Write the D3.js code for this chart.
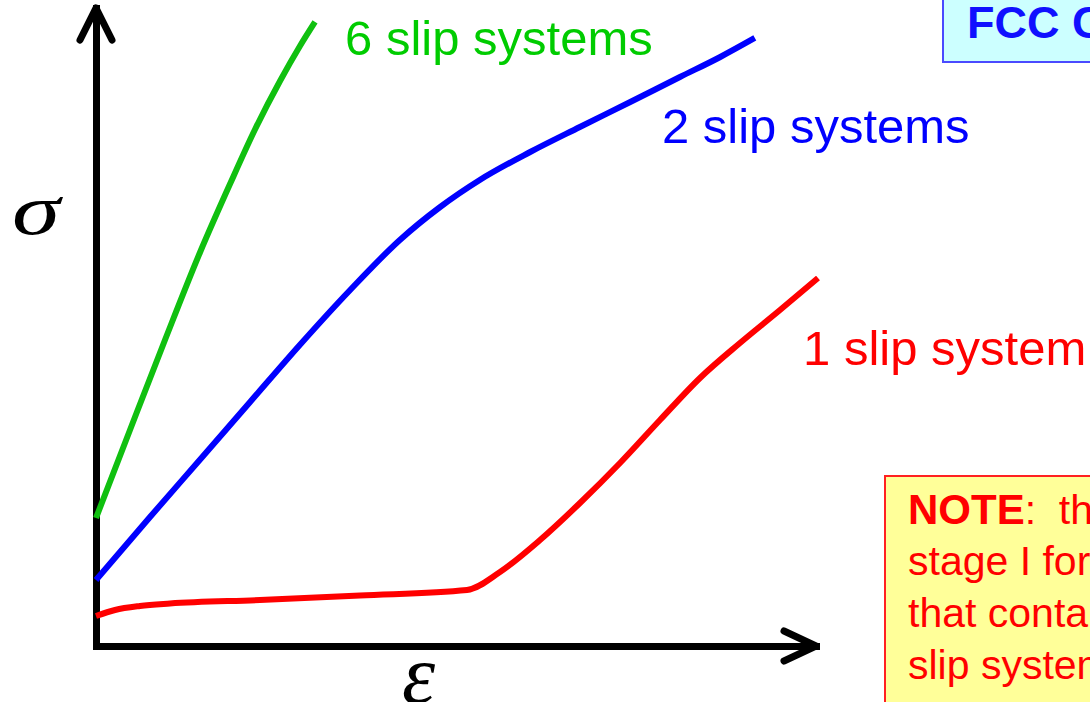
<!DOCTYPE html>
<html lang="en">
<head>
    <meta charset="utf-8">
    <title>Slip systems stress-strain</title>
    <script type="text/javascript" src="https://cdn.jsdelivr.net/npm/d3@7/dist/d3.min.js"></script>
    <style>
        body { margin: 0; background: #fff; }
        svg { display: block; }
    </style>
</head>
<body>
    <div id="chart"></div>

    <script type="text/javascript">

            // curve values (strain, stress in 0-100 units)
            var sixSlipStrain = [0, 4.72, 9.58, 14.44, 18.61, 22.08, 25.56, 28.33, 30.42];
            var sixSlipStress = [20.06, 33.86, 47.96, 61.68, 72.41, 80.96, 88.56, 94.04, 97.81];

            var twoSlipStrain = [0, 7.5, 14.4, 21.4, 28.3, 35.3, 42.2, 47.8, 53.3, 60.3, 67.2, 74.2, 81.1, 86.7, 91.5];
            var twoSlipStress = [10.34, 20.22, 29.15, 38.24, 47.18, 55.8, 63.64, 68.81, 73.04, 77.43, 81.35, 85.27, 89.18, 92.32, 95.3];

            var oneSlipStrain = [0, 2.64, 6.11, 10.28, 22.78, 36.67, 51.53, 56.11, 61.67, 67.22, 72.78, 78.33, 83.89, 89.44, 95.0, 100.28];
            var oneSlipStress = [4.7, 5.64, 6.27, 6.66, 7.21, 7.92, 8.78, 11.6, 16.61, 22.41, 28.68, 35.42, 42.01, 47.49, 52.66, 57.68];

            var seriesNames = ["6 slip systems", "2 slip systems", "1 slip system"];
            var noteLines = ["there is no", "stage I for crystals", "that contain many", "slip systems"];

            var w = 1090;
            var h = 702;

            var xScale = d3.scaleLinear().domain([0, 100]).range([96, 816]);
            var yScale = d3.scaleLinear().domain([0, 100]).range([646, 8]);

            var svg = d3.select("#chart")
            .append("svg")
            .attr("width", w)
            .attr("height", h)
            .style("font-family", "'Liberation Sans', Arial, sans-serif");

            // boxes on the right (drawn first, clipped by the page edge)
            svg.append("rect")
              .attr("x", 943).attr("y", -10)
              .attr("width", 200).attr("height", 72)
              .attr("fill", "#ccffff")
              .attr("stroke", "#4a4aff")
              .attr("stroke-width", 2);

            svg.append("text")
              .attr("x", 967).attr("y", 38)
              .attr("font-size", 45)
              .attr("font-weight", "bold")
              .attr("fill", "#1010ff")
              .text("FCC Crystals");

            svg.append("rect")
              .attr("x", 885).attr("y", 476)
              .attr("width", 260).attr("height", 260)
              .attr("fill", "#ffff99")
              .attr("stroke", "#ff2020")
              .attr("stroke-width", 2);

            var note = svg.append("g").attr("fill", "#ff0000").attr("font-size", 41);
            var first = note.append("text").attr("x", 908).attr("y", 524).attr("xml:space", "preserve");
            first.append("tspan").attr("font-weight", "bold").attr("font-size", 42).text("NOTE");
            first.append("tspan").text(":  " + noteLines[0]);
            noteLines.slice(1).forEach(function(t, i) {
                note.append("text").attr("x", 908).attr("y", 575 + i * 52).text(t);
            });

            // axes
            var yAxis = svg.append("g")
              .attr("transform", "translate(" + xScale(0) + ",0)")
              .call(d3.axisLeft(yScale).ticks(0).tickSize(0).tickSizeOuter(0));
            var xAxis = svg.append("g")
              .attr("transform", "translate(0," + yScale(0) + ")")
              .call(d3.axisBottom(xScale).ticks(0).tickSize(0).tickSizeOuter(0));
            svg.selectAll(".domain")
              .attr("stroke", "#000")
              .attr("stroke-width", 7)
              .attr("stroke-linecap", "square");

            var arrows = svg.append("g")
              .attr("fill", "none")
              .attr("stroke", "#000")
              .attr("stroke-width", 7)
              .attr("stroke-linecap", "round")
              .attr("stroke-linejoin", "round");
            var tipY = [xScale(0), yScale(100)];
            arrows.append("path")
              .attr("d", d3.line()([[tipY[0] - 16, tipY[1] + 32], tipY, [tipY[0] + 16, tipY[1] + 32]]));
            var tipX = [xScale(100), yScale(0)];
            arrows.append("path")
              .attr("d", d3.line()([[tipX[0] - 32, tipX[1] - 15], tipX, [tipX[0] - 32, tipX[1] + 15]]));

            svg.append("text")
              .attr("transform", "translate(12,234) scale(1.35,1)")
              .attr("font-family", "'Liberation Serif', 'Times New Roman', serif")
              .attr("font-style", "italic")
              .attr("font-size", 72)
              .text("\u03c3");

            svg.append("text")
              .attr("x", 402).attr("y", 703)
              .attr("font-family", "'Liberation Serif', 'Times New Roman', serif")
              .attr("font-style", "italic")
              .attr("font-size", 84)
              .text("\u03b5");

            // curves
            var line = d3.line()
              .x(function(d) { return xScale(d[0]); })
              .y(function(d) { return yScale(d[1]); })
              .curve(d3.curveMonotoneX);

            var curves = [
                { x: sixSlipStrain, y: sixSlipStress, color: "#10c010" },
                { x: twoSlipStrain, y: twoSlipStress, color: "#0000ff" },
                { x: oneSlipStrain, y: oneSlipStress, color: "#ff0000" }
            ];

            svg.selectAll("path.curve")
            .data(curves)
            .enter()
            .append("path")
            .attr("class", "curve")
            .attr("d", function(c) { return line(d3.zip(c.x, c.y)); })
            .attr("fill", "none")
            .attr("stroke", function(c) { return c.color; })
            .attr("stroke-width", 6)
            .attr("stroke-linecap", "butt");

            // labels, placed in chart units
            var labelSpots = [[34.6, 92.7, "#00cc00"], [78.6, 78.8, "#0000ff"], [98.2, 44.0, "#ff0000"]];
            svg.selectAll("text.label")
            .data(seriesNames)
            .enter()
            .append("text")
            .attr("class", "label")
            .attr("x", function(d, i) { return xScale(labelSpots[i][0]); })
            .attr("y", function(d, i) { return yScale(labelSpots[i][1]); })
            .attr("font-size", 49)
            .attr("fill", function(d, i) { return labelSpots[i][2]; })
            .text(function(d) { return d; });

        </script>
    </body>
    </html>
